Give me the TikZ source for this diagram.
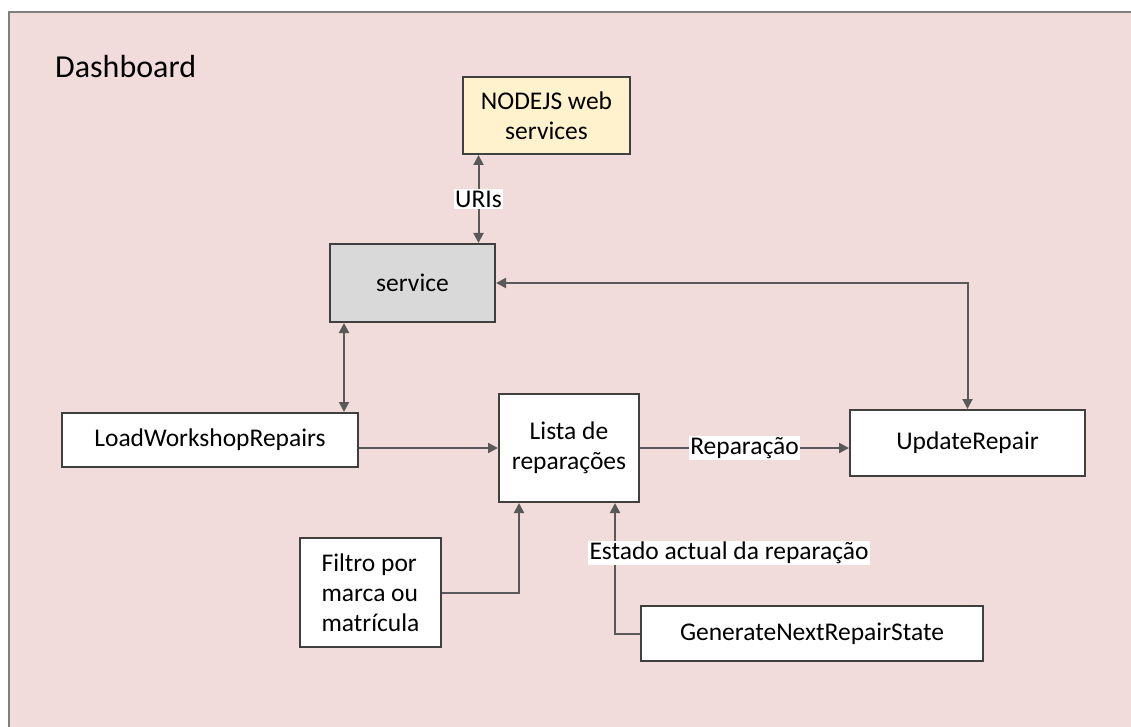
\documentclass[tikz,border=0pt]{standalone}
\usepackage{fontspec}
\setmainfont{Carlito}
\usetikzlibrary{arrows.meta,calc}
\definecolor{panel}{HTML}{F2DCDB}
\definecolor{frameline}{HTML}{7F7F7F}
\definecolor{boxline}{HTML}{404040}
\definecolor{wireline}{HTML}{595959}
\definecolor{nodejsfill}{HTML}{FFF2CC}
\definecolor{servicefill}{HTML}{D9D9D9}
\tikzset{
  block/.style={draw=boxline, line width=2pt, fill=white, inner sep=0pt,
    align=center, font=\fontsize{25.5}{30}\selectfont},
  wire/.style={draw=wireline, line width=2pt,
    -{Triangle[width=10pt,length=10pt]}},
  biwire/.style={draw=wireline, line width=2pt,
    {Triangle[width=10pt,length=10pt]}-{Triangle[width=10pt,length=10pt]}},
  tag/.style={fill=white, inner sep=1.5pt, font=\fontsize{25.5}{30}\selectfont}
}
\begin{document}
\begin{tikzpicture}[x=1pt,y=-1pt]
  \useasboundingbox (0,0) rectangle (1131,727);
  \clip (0,0) rectangle (1131,727);
  \fill[white] (0,0) rectangle (1131,727);
  % dashboard panel
  \draw[fill=panel, draw=frameline, line width=2.5pt] (9,12) rectangle (1150,750);
  \node[anchor=west, inner sep=0pt, font=\fontsize{32}{36}\selectfont] (title) at (55,67) {Dashboard};

  % components
  \node[block, fill=nodejsfill, minimum width=167pt, minimum height=77pt] (nodejs) at (546.5,115.5) {NODEJS web\\services};
  \node[block, fill=servicefill, minimum width=165pt, minimum height=78pt] (service) at (412.5,283) {service};
  \node[block, minimum width=296pt, minimum height=54pt] (load) at (210,440) {LoadWorkshopRepairs};
  \node[block, minimum width=140pt, minimum height=108pt] (lista) at (569,448) {Lista de\\reparações};
  \node[block, minimum width=235pt, minimum height=66pt] (update) at (967.5,443) {UpdateRepair};
  \node[block, align=left, minimum width=141pt, minimum height=109pt] (filtro) at (370.5,592.5) {Filtro por\\marca ou\\matrícula};
  \node[block, minimum width=342pt, minimum height=55pt] (gen) at (812,633.5) {GenerateNextRepairState};

  % connectors
  \draw[biwire] ([xshift=16.5pt]nodejs.south west) -- ([xshift=16.5pt]nodejs.south west |- service.north)
    node[midway, tag] (uris) {URIs};
  \draw[biwire] ([xshift=15pt]service.south west) -- ([xshift=15pt]service.south west |- load.north);
  \draw[wire] (load.east |- lista.west) -- (lista.west);
  \draw[wire] (lista.east) -- (lista.east -| update.west)
    node[midway, tag] (rep) {Reparação};
  \draw[biwire] (update.north) |- (service.east);
  \draw[wire] (filtro.east) -| ([xshift=21pt]lista.south west);
  \draw[wire] (gen.west) -| ([xshift=-25pt]lista.south east);
  \node[tag] (estado) at (729,553) {Estado actual da reparação};
\end{tikzpicture}
\end{document}
